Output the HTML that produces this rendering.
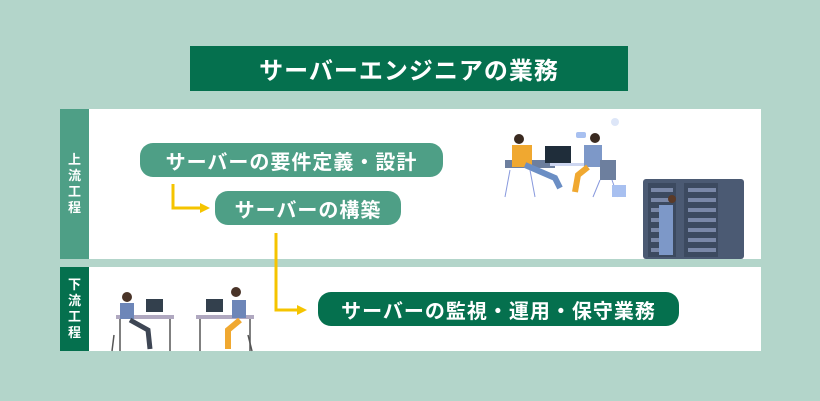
<!DOCTYPE html>
<html><head><meta charset="utf-8"><style>
body{margin:0;width:820px;height:401px;background:#b3d5ca;position:relative;overflow:hidden;font-family:"Liberation Sans","Noto Sans CJK JP",sans-serif;font-weight:bold}
div{position:absolute;box-sizing:border-box}
.t{color:#fff;display:flex;align-items:center;justify-content:center}
.lab{color:#fff;font-size:13px;width:29px;display:flex;flex-direction:column;align-items:center;justify-content:center;line-height:16px}
.box{border-radius:13px;font-size:20px;letter-spacing:1px}
</style></head><body>
<div class="t" style="left:190px;top:46px;width:438px;height:45px;background:#05704e;font-size:24px;letter-spacing:1px">サーバーエンジニアの業務</div>
<div style="left:89px;top:109px;width:672px;height:150px;background:#fff"></div>
<div class="lab" style="left:60px;top:109px;height:150px;background:#4e9f86"><span>上</span><span>流</span><span>工</span><span>程</span></div>
<div style="left:89px;top:267px;width:672px;height:84px;background:#fff"></div>
<div class="lab" style="left:60px;top:267px;height:84px;background:#05704e"><span>下</span><span>流</span><span>工</span><span>程</span></div>
<div class="t box" style="left:140px;top:143px;width:303px;height:34px;background:#4e9f86">サーバーの要件定義・設計</div>
<div class="t box" style="left:215px;top:191px;width:186px;height:34px;background:#4e9f86">サーバーの構築</div>
<div class="t box" style="left:318px;top:292px;width:361px;height:34px;background:#05704e">サーバーの監視・運用・保守業務</div>
<svg style="position:absolute;left:0;top:0" width="820" height="401">
<g fill="none" stroke="#f5c400" stroke-width="3">
<polyline points="173,184 173,208 201,208"/><polyline points="276,233 276,310 298,310"/></g>
<g fill="#f5c400"><polygon points="200,203 210,208 200,213"/><polygon points="297,305 307,310 297,315"/></g>
<!-- upper illustration -->
<g>
<rect x="505" y="160" width="50" height="8" fill="#6d7f9e"/>
<rect x="512" y="145" width="20" height="22" fill="#f0a830"/>
<circle cx="519" cy="139" r="5" fill="#3a2a20"/>
<path d="M525 165 L555 178 L560 188" stroke="#6b8ec4" stroke-width="6" fill="none"/>
<rect x="545" y="146" width="26" height="17" fill="#1f2d3a"/>
<rect x="550" y="163" width="50" height="3" fill="#cdd6f0"/>
<rect x="584" y="145" width="18" height="22" fill="#7d98c8"/>
<circle cx="595" cy="138" r="5" fill="#3a2a20"/>
<path d="M588 167 L578 175 L575 192" stroke="#f0a830" stroke-width="6" fill="none"/>
<rect x="600" y="160" width="16" height="20" fill="#6d7f9e"/>
<line x1="510" y1="170" x2="505" y2="197" stroke="#8899dd"/><line x1="530" y1="170" x2="535" y2="197" stroke="#8899dd"/>
<line x1="600" y1="180" x2="593" y2="197" stroke="#8899dd"/><line x1="612" y1="180" x2="618" y2="197" stroke="#8899dd"/>
<rect x="612" y="185" width="14" height="12" fill="#a8c0f0"/>
<rect x="576" y="132" width="10" height="6" rx="2" fill="#a8c0f0"/>
<circle cx="615" cy="122" r="4" fill="#dde6f8"/>
<rect x="643" y="179" width="101" height="80" rx="3" fill="#4b5a73"/>
<rect x="648" y="183" width="28" height="74" fill="#3c4a60"/>
<rect x="684" y="183" width="34" height="74" fill="#3c4a60"/>
<g fill="#7a88a8"><rect x="651" y="188" width="22" height="4"/><rect x="651" y="198" width="22" height="4"/><rect x="651" y="208" width="22" height="4"/><rect x="651" y="218" width="22" height="4"/><rect x="651" y="228" width="22" height="4"/><rect x="651" y="238" width="22" height="4"/><rect x="651" y="248" width="22" height="4"/>
<rect x="688" y="188" width="28" height="4"/><rect x="688" y="198" width="28" height="4"/><rect x="688" y="208" width="28" height="4"/><rect x="688" y="218" width="28" height="4"/><rect x="688" y="228" width="28" height="4"/><rect x="688" y="238" width="28" height="4"/><rect x="688" y="248" width="28" height="4"/></g>
<rect x="659" y="205" width="14" height="50" fill="#7d98c8"/><circle cx="672" cy="199" r="4" fill="#5a3a28"/>
</g>
<!-- lower illustration -->
<g>
<rect x="116" y="315" width="58" height="4" fill="#b0a8c0"/><rect x="196" y="315" width="58" height="4" fill="#b0a8c0"/>
<rect x="146" y="299" width="17" height="13" fill="#33404d"/><rect x="206" y="299" width="17" height="13" fill="#33404d"/>
<rect x="120" y="303" width="14" height="16" fill="#6d86b8"/><circle cx="127" cy="297" r="5" fill="#4a3428"/>
<rect x="232" y="300" width="14" height="18" fill="#6d86b8"/><circle cx="236" cy="292" r="5" fill="#4a3428"/>
<path d="M130 320 L148 330 L150 349" stroke="#3e4654" stroke-width="5" fill="none"/>
<path d="M240 320 L228 330 L228 349" stroke="#f0a830" stroke-width="6" fill="none"/>
<g stroke="#555" stroke-width="1.5"><line x1="120" y1="319" x2="120" y2="351"/><line x1="170" y1="319" x2="170" y2="351"/><line x1="200" y1="319" x2="200" y2="351"/><line x1="250" y1="319" x2="250" y2="351"/><line x1="114" y1="335" x2="112" y2="351"/><line x1="248" y1="335" x2="252" y2="351"/></g>
</g>
</svg>
</body></html>
